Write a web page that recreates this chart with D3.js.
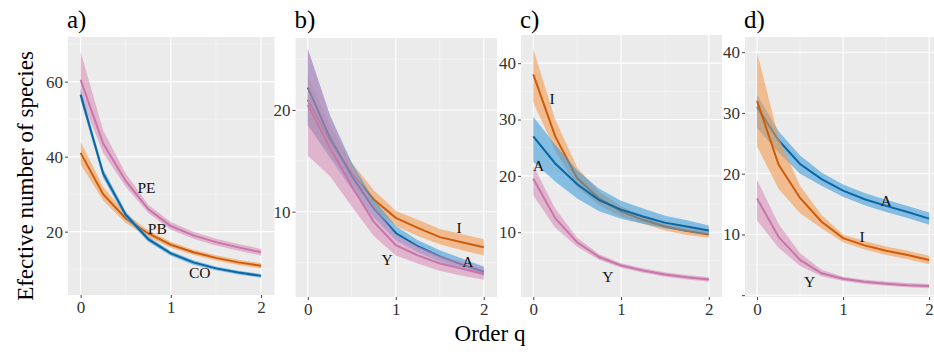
<!DOCTYPE html>
<html>
<head>
<meta charset="utf-8">
<script src="https://cdn.jsdelivr.net/npm/d3@7"></script>
<style>
  body { margin: 0; background: #fff; }
  svg text { font-family: "Liberation Serif", "Times New Roman", serif; }
</style>
</head>
<body>
<svg id="chart" width="934" height="352"></svg>
<script>
// order q values shared by every curve
const orderQ = [0, 0.25, 0.5, 0.75, 1, 1.25, 1.5, 1.75, 2];

// panel a) PE / PB / CO
const aPE   = [60.5, 43.5, 33.5, 26, 21.5, 19, 17.2, 15.8, 14.5];
const aPElo = [56, 41, 32, 25, 20.5, 18.1, 16.3, 14.9, 13.6];
const aPEhi = [68, 47, 35.5, 27.2, 22.6, 20, 18.1, 16.7, 15.4];
const aPB   = [41, 30, 23.5, 19.5, 16.5, 14.5, 13, 11.8, 10.9];
const aPBlo = [38, 28.3, 22.3, 18.6, 15.7, 13.8, 12.3, 11.1, 10.2];
const aPBhi = [44, 32, 24.8, 20.4, 17.3, 15.2, 13.7, 12.5, 11.6];
const aCO   = [56.5, 35.5, 24.5, 18, 14.2, 11.8, 10.2, 9.1, 8.2];
const aCOlo = [55, 34.3, 23.6, 17.3, 13.6, 11.2, 9.7, 8.6, 7.7];
const aCOhi = [58, 36.7, 25.4, 18.7, 14.8, 12.4, 10.7, 9.6, 8.7];

// panel b) I / A / Y
const bI   = [21, 17, 13.8, 11.2, 9.4, 8.4, 7.5, 7.0, 6.5];
const bIlo = [18.5, 15.5, 12.8, 10.3, 8.6, 7.6, 6.8, 6.2, 5.7];
const bIhi = [23.5, 18.5, 14.8, 12.1, 10.1, 9.2, 8.3, 7.8, 7.3];
const bA   = [22.2, 17.3, 13.5, 10.3, 7.9, 6.6, 5.6, 4.8, 4.1];
const bAlo = [18.5, 15.3, 12.2, 9.4, 7.2, 6.0, 5.1, 4.3, 3.7];
const bAhi = [26, 19.5, 14.8, 11.2, 8.6, 7.2, 6.2, 5.4, 4.6];
const bY   = [20.5, 16.3, 12.5, 9.0, 6.7, 5.7, 4.9, 4.4, 3.9];
const bYlo = [15.5, 13.5, 10.5, 7.6, 5.7, 4.9, 4.2, 3.7, 3.3];
const bYhi = [26, 19.5, 14.5, 10.6, 7.7, 6.6, 5.7, 5.1, 4.5];

// panel c) I / A / Y
const cI   = [38, 27, 19.6, 16.0, 13.7, 12.2, 11.0, 10.2, 9.6];
const cIlo = [33, 24.5, 18, 14.8, 12.8, 11.5, 10.3, 9.5, 9.0];
const cIhi = [42.5, 30, 21.5, 17.2, 14.6, 12.9, 11.7, 10.9, 10.2];
const cA   = [27, 22.2, 18.5, 15.7, 14.0, 12.8, 11.7, 11.0, 10.3];
const cAlo = [22.5, 19, 16, 13.7, 12.4, 11.5, 10.7, 10.1, 9.5];
const cAhi = [30.5, 25.5, 21, 17.7, 15.6, 14.2, 12.9, 12.1, 11.2];
const cY   = [19.5, 12.5, 8.2, 5.6, 4.1, 3.2, 2.5, 2.0, 1.6];
const cYlo = [16.5, 10.8, 7.4, 5.1, 3.7, 2.8, 2.1, 1.6, 1.2];
const cYhi = [21.8, 14.2, 9.0, 6.1, 4.5, 3.6, 2.9, 2.4, 2.0];

// panel d) A / I / Y
const dA   = [31, 25.5, 21.6, 19.1, 17.2, 15.8, 14.7, 13.7, 12.6];
const dAlo = [27.5, 23.5, 20, 18, 16.2, 14.8, 13.7, 12.7, 11.6];
const dAhi = [33, 27, 23, 20.2, 18.2, 16.8, 15.7, 14.7, 13.6];
const dI   = [32, 21.5, 16, 12.1, 9.4, 8.2, 7.3, 6.6, 5.8];
const dIlo = [24.5, 17.5, 13.5, 11, 8.7, 7.5, 6.6, 5.9, 5.1];
const dIhi = [40, 26, 18, 13.2, 10, 8.9, 8.0, 7.3, 6.5];
const dY   = [15.9, 9.6, 5.8, 3.6, 2.7, 2.2, 1.9, 1.65, 1.5];
const dYlo = [12.3, 7.8, 4.8, 3.1, 2.35, 1.85, 1.55, 1.3, 1.15];
const dYhi = [19, 11.7, 6.9, 4.2, 3.05, 2.55, 2.25, 2.0, 1.85];

// tick labels
const xTicks = [0, 1, 2];
const xMinor = [0.5, 1.5];

const serif = "'Liberation Serif', 'Times New Roman', serif";

const colors = {
  blue:   { line: "#0a67a3", fill: "#3a9ad9" },
  orange: { line: "#cf5b0a", fill: "#f39a4c" },
  pink:   { line: "#c776a9", fill: "#d98cb8" }
};

const panels = [
  { title: "a)", left: 68, right: 274.5, top: 37, bottom: 295, yDomain: [3.1, 71.9],
    yTicks: [20, 40, 60], yMinor: [10, 30, 50, 70],
    series: [
      { mid: aPB, lo: aPBlo, hi: aPBhi, col: "orange" },
      { mid: aPE, lo: aPElo, hi: aPEhi, col: "pink" },
      { mid: aCO, lo: aCOlo, hi: aCOhi, col: "blue" }
    ],
    labels: [ { t: "PE", q: 0.73, v: 31.8 }, { t: "PB", q: 0.85, v: 20.9 }, { t: "CO", q: 1.32, v: 9.1 } ] },
  { title: "b)", left: 295.5, right: 497, top: 38, bottom: 297, yDomain: [1.61, 27.08],
    yTicks: [10, 20], yMinor: [5, 15, 25],
    series: [
      { mid: bI, lo: bIlo, hi: bIhi, col: "orange" },
      { mid: bA, lo: bAlo, hi: bAhi, col: "blue" },
      { mid: bY, lo: bYlo, hi: bYhi, col: "pink" }
    ],
    labels: [ { t: "I", q: 1.72, v: 8.4 }, { t: "A", q: 1.82, v: 5.1 }, { t: "Y", q: 0.9, v: 5.25 } ] },
  { title: "c)", left: 521, right: 722, top: 35, bottom: 297, yDomain: [-1.5, 45],
    yTicks: [10, 20, 30, 40], yMinor: [5, 15, 25, 35],
    series: [
      { mid: cI, lo: cIlo, hi: cIhi, col: "orange" },
      { mid: cA, lo: cAlo, hi: cAhi, col: "blue" },
      { mid: cY, lo: cYlo, hi: cYhi, col: "pink" }
    ],
    labels: [ { t: "I", q: 0.215, v: 33.8 }, { t: "A", q: 0.06, v: 21.9 }, { t: "Y", q: 0.85, v: 2.1 } ] },
  { title: "d)", left: 745, right: 942, top: 37, bottom: 297, yDomain: [-0.3, 42.5],
    yTicks: [0, 10, 20, 30, 40], yMinor: [5, 15, 25, 35], hideZero: true,
    series: [
      { mid: dA, lo: dAlo, hi: dAhi, col: "blue" },
      { mid: dI, lo: dIlo, hi: dIhi, col: "orange" },
      { mid: dY, lo: dYlo, hi: dYhi, col: "pink" }
    ],
    labels: [ { t: "A", q: 1.5, v: 15.65 }, { t: "I", q: 1.22, v: 9.6 }, { t: "Y", q: 0.61, v: 2.2 } ] }
];

const svg = d3.select("#chart");

panels.forEach(p => {
  let x = d3.scaleLinear().domain([-0.14, 2.15]).range([p.left, p.right]);
  let y = d3.scaleLinear().domain(p.yDomain).range([p.bottom, p.top]);
  let g = svg.append("g");

  g.append("rect")
    .attr("x", p.left).attr("y", p.top)
    .attr("width", p.right - p.left).attr("height", p.bottom - p.top)
    .attr("fill", "#ebebeb");

  // minor grid
  g.selectAll(".minx").data(xMinor).enter().append("line")
    .attr("x1", d => x(d)).attr("x2", d => x(d))
    .attr("y1", p.top).attr("y2", p.bottom)
    .attr("stroke", "#f7f7f7").attr("stroke-width", 0.6);
  g.selectAll(".miny").data(p.yMinor.filter(v => y(v) > p.top && y(v) < p.bottom)).enter().append("line")
    .attr("x1", p.left).attr("x2", p.right)
    .attr("y1", d => y(d)).attr("y2", d => y(d))
    .attr("stroke", "#f7f7f7").attr("stroke-width", 0.6);
  // major grid
  g.selectAll(".majx").data(xTicks).enter().append("line")
    .attr("x1", d => x(d)).attr("x2", d => x(d))
    .attr("y1", p.top).attr("y2", p.bottom)
    .attr("stroke", "#fff").attr("stroke-width", 1.1);
  g.selectAll(".majy").data(p.yTicks).enter().append("line")
    .attr("x1", p.left).attr("x2", p.right)
    .attr("y1", d => y(d)).attr("y2", d => y(d))
    .attr("stroke", "#fff").attr("stroke-width", 1.1);

  let area = d3.area().x((d, i) => x(orderQ[i])).y0(d => y(d[0])).y1(d => y(d[1]));
  let line = d3.line().x((d, i) => x(orderQ[i])).y(d => y(d));

  p.series.forEach(s => {
    g.append("path")
      .datum(s.lo.map((v, i) => [v, s.hi[i]]))
      .attr("d", area)
      .attr("fill", colors[s.col].fill)
      .attr("fill-opacity", 0.58);
    g.append("path")
      .datum(s.mid)
      .attr("d", line)
      .attr("fill", "none")
      .attr("stroke", colors[s.col].line)
      .attr("stroke-width", 2);
  });

  // axes
  let yAxis = d3.axisLeft(y).tickValues(p.yTicks).tickSize(3).tickPadding(2)
    .tickFormat(d => (p.hideZero && d === 0) ? "" : d);
  let ya = g.append("g").attr("transform", `translate(${p.left},0)`).call(yAxis);
  let xAxis = d3.axisBottom(x).tickValues(xTicks).tickSize(3).tickPadding(3).tickFormat(d3.format("d"));
  let xa = g.append("g").attr("transform", `translate(0,${p.bottom})`).call(xAxis);
  [ya, xa].forEach(a => {
    a.attr("font-family", serif).attr("font-size", 17);
    a.select(".domain").remove();
    a.selectAll(".tick line").attr("stroke", "#444");
    a.selectAll(".tick text").attr("fill", "#333").attr("font-family", serif).attr("font-size", 17);
  });

  g.selectAll(".lab").data(p.labels).enter().append("text")
    .attr("x", d => x(d.q)).attr("y", d => y(d.v))
    .attr("text-anchor", "middle").attr("dominant-baseline", "central")
    .attr("font-family", serif)
    .attr("font-size", 15.5).attr("fill", "#111")
    .text(d => d.t);

  svg.append("text")
    .attr("x", p.left - 1).attr("y", 28)
    .attr("font-family", serif)
    .attr("font-size", 25).attr("fill", "#000")
    .text(p.title);
});

svg.append("text")
  .attr("transform", "translate(33,176) rotate(-90)")
  .attr("text-anchor", "middle")
  .attr("font-family", serif)
  .attr("font-size", 23).attr("fill", "#000")
  .text("Efective number of species");

svg.append("text")
  .attr("x", 490).attr("y", 341)
  .attr("text-anchor", "middle")
  .attr("font-family", serif)
  .attr("font-size", 23).attr("fill", "#000")
  .text("Order q");
</script>
</body>
</html>
